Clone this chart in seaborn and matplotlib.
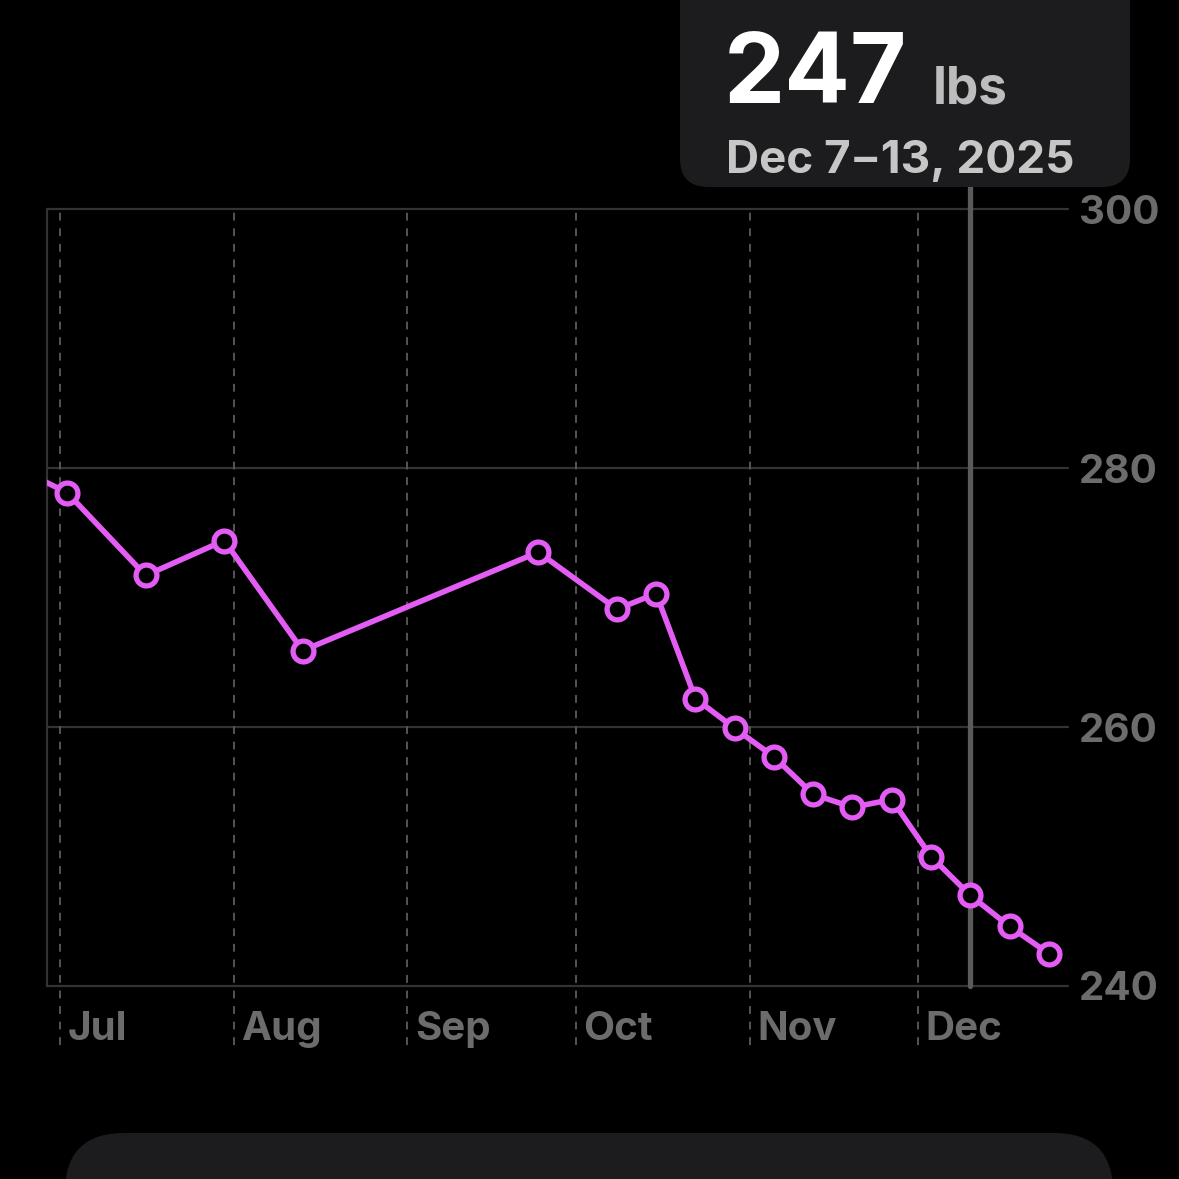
import pandas as pd
import seaborn as sns
import matplotlib.pyplot as plt
from matplotlib.patches import FancyBboxPatch
from matplotlib.transforms import ScaledTranslation

# weekly average weight (week midpoints)
week_dates = ['2025-06-25', '2025-07-02', '2025-07-16', '2025-07-30', '2025-08-13',
              '2025-09-24', '2025-10-08', '2025-10-15', '2025-10-22', '2025-10-29',
              '2025-11-05', '2025-11-12', '2025-11-19', '2025-11-26', '2025-12-03',
              '2025-12-10', '2025-12-17', '2025-12-24']
weights = [279.6, 278.1, 271.7, 274.4, 265.9,
           273.5, 269.1, 270.3, 262.2, 259.9,
           257.7, 254.8, 253.8, 254.4, 250.0,
           247.0, 244.6, 242.5]

month_starts = ['2025-07-01', '2025-08-01', '2025-09-01', '2025-10-01', '2025-11-01', '2025-12-01']
month_labels = ['Jul', 'Aug', 'Sep', 'Oct', 'Nov', 'Dec']
y_ticks = [240, 260, 280, 300]

selected_date = '2025-12-10'
selected_value = '247'
selected_unit = 'lbs'
selected_range = 'Dec 7\u200a\u2013\u200a13, 2025'

df = pd.DataFrame({'date': pd.to_datetime(week_dates) + pd.Timedelta(hours=14),
                   'weight': weights})

sns.set_style('dark')
plt.rcParams['font.family'] = ['Inter', 'DejaVu Sans']

BG = '#000000'
PANEL = '#1c1c1e'
MAGENTA = '#e35cf4'
GRID = '#333333'
DASH = '#555555'
LABEL = '#6c6c6c'

fig = plt.figure(figsize=(11.79, 11.79), dpi=100, facecolor=BG)
ax = fig.add_axes([47 / 1179, 1 - 986 / 1179, (1068 - 47) / 1179, (986 - 209) / 1179])
ax.set_facecolor(BG)

# horizontal grid lines
for yv in y_ticks:
    ax.axhline(yv, color=GRID, lw=1.6, zorder=1, clip_on=False)

# dashed month lines, running down through the labels
for d in month_starts:
    ax.axvline(pd.Timestamp(d) + pd.Timedelta(hours=6), ymin=-0.076, ymax=1, color=DASH,
               lw=1.4, ls=(0, (4, 4)), zorder=1, clip_on=False)

# selection cursor
ax.axvline(pd.Timestamp(selected_date) + pd.Timedelta(hours=14), ymin=0, ymax=1.03,
           color='#5a5a5a', lw=3.8, zorder=2, clip_on=False)

sns.lineplot(data=df, x='date', y='weight', ax=ax, color=MAGENTA, lw=4.0,
             marker='o', markersize=15, markerfacecolor=BG, markeredgecolor=MAGENTA,
             markeredgewidth=3.8, zorder=3)

ax.set_xlim(pd.Timestamp('2025-06-29'), pd.Timestamp('2025-12-28'))
ax.set_ylim(240, 300)

for side in ['top', 'right', 'bottom']:
    ax.spines[side].set_visible(False)
ax.spines['left'].set_color(GRID)
ax.spines['left'].set_linewidth(1.6)

ax.yaxis.tick_right()
ax.set_yticks(y_ticks)
ax.set_yticklabels([str(v) for v in y_ticks])
ax.tick_params(axis='y', length=0, pad=8, labelsize=29, labelcolor=LABEL)

ax.set_xticks(pd.to_datetime(month_starts))
ax.set_xticklabels(month_labels)
ax.tick_params(axis='x', length=0, pad=18, labelsize=29, labelcolor=LABEL)
shift = ScaledTranslation(9 / 100, 0, fig.dpi_scale_trans)
for lab in ax.get_xticklabels():
    lab.set_horizontalalignment('left')
    lab.set_transform(lab.get_transform() + shift)
for lab in ax.get_xticklabels() + ax.get_yticklabels():
    lab.set_fontweight('bold')

ax.set_xlabel('')
ax.set_ylabel('')
ax.grid(False)

# tooltip box
tip = FancyBboxPatch((680 / 1179, 1 - 187 / 1179), 450 / 1179, 0.2,
                     boxstyle='round,pad=0,rounding_size=0.024',
                     transform=fig.transFigure, facecolor=PANEL, edgecolor='none', zorder=0)
fig.patches.append(tip)
fig.text(724 / 1179, 1 - 103 / 1179, selected_value, color='white', fontsize=70,
         fontweight='bold', va='baseline', ha='left')
fig.text(933 / 1179, 1 - 103 / 1179, selected_unit, color='#bdbdbd', fontsize=37,
         fontweight='bold', va='baseline', ha='left')
fig.text(726 / 1179, 1 - 173 / 1179, selected_range, color='#c6c6c6', fontsize=33,
         fontweight='bold', va='baseline', ha='left')

# card peeking in at the bottom
card = FancyBboxPatch((65 / 1179, -0.2), 1048 / 1179, 0.2 + 46 / 1179,
                      boxstyle='round,pad=0,rounding_size=0.05',
                      transform=fig.transFigure, facecolor=PANEL, edgecolor='none', zorder=0)
fig.patches.append(card)

plt.savefig('out.png', dpi=100, facecolor=BG)
